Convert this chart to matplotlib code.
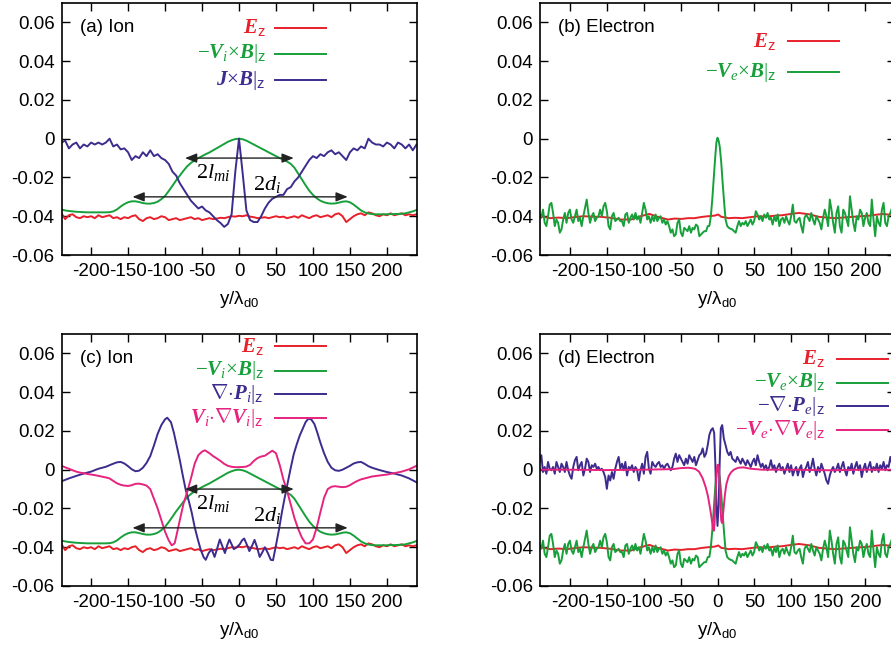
import numpy as np
import matplotlib
matplotlib.use('Agg')
import matplotlib.pyplot as plt

plt.rcParams['font.family'] = ['Liberation Sans', 'DejaVu Sans']
plt.rcParams['mathtext.fontset'] = 'custom'
plt.rcParams['mathtext.rm'] = 'Liberation Serif'
plt.rcParams['mathtext.it'] = 'Liberation Serif:italic'
plt.rcParams['mathtext.bf'] = 'Liberation Serif:bold:italic'
plt.rcParams['mathtext.sf'] = 'Liberation Sans'

C_RED = '#e8202a'
C_GRN = '#17a03a'
C_BLU = '#3d2b8e'
C_MAG = '#e6237e'

# ---------------- axis ticks ----------------
xticks = [-200, -150, -100, -50, 0, 50, 100, 150, 200]
xtick_labels = ['-200', '-150', '-100', '-50', '0', '50', '100', '150', '200']
yticks = [-0.06, -0.04, -0.02, 0.0, 0.02, 0.04, 0.06]
ytick_labels = ['-0.06', '-0.04', '-0.02', '0', '0.02', '0.04', '0.06']

# ---------------- ion panels (a), (c) ----------------
y_ion = np.arange(-240, 241, 5)

ion_Ez = [-0.0385, -0.0415, -0.0395, -0.0390, -0.0405, -0.0410, -0.0400, -0.0405, -0.0400, -0.0410,
          -0.0395, -0.0405, -0.0400, -0.0395, -0.0410, -0.0405, -0.0415, -0.0405, -0.0410, -0.0400,
          -0.0395, -0.0415, -0.0425, -0.0410, -0.0405, -0.0415, -0.0410, -0.0400, -0.0405, -0.0420,
          -0.0415, -0.0410, -0.0420, -0.0415, -0.0410, -0.0405, -0.0415, -0.0410, -0.0420, -0.0415,
          -0.0410, -0.0415, -0.0412, -0.0408, -0.0410, -0.0405, -0.0400, -0.0402, -0.0398, -0.0400,
          -0.0395, -0.0402, -0.0405, -0.0410, -0.0408, -0.0405, -0.0410, -0.0405, -0.0400, -0.0405,
          -0.0402, -0.0410, -0.0405, -0.0400, -0.0408, -0.0395, -0.0403, -0.0410, -0.0400, -0.0395,
          -0.0405, -0.0400, -0.0395, -0.0405, -0.0390, -0.0385, -0.0400, -0.0430, -0.0415, -0.0400,
          -0.0390, -0.0385, -0.0395, -0.0380, -0.0385, -0.0395, -0.0400, -0.0390, -0.0395, -0.0385,
          -0.0395, -0.0390, -0.0385, -0.0395, -0.0390, -0.0395, -0.0390]

ion_VxB = [-0.0366, -0.0370, -0.0373, -0.0375, -0.0377, -0.0378, -0.0379, -0.0380, -0.0380, -0.0380,
           -0.0380, -0.0380, -0.0380, -0.0379, -0.0375, -0.0365, -0.0350, -0.0337, -0.0328, -0.0323,
           -0.0323, -0.0327, -0.0332, -0.0335, -0.0335, -0.0332, -0.0325, -0.0312, -0.0295, -0.0270,
           -0.0243, -0.0215, -0.0190, -0.0165, -0.0142, -0.0125, -0.0112, -0.0100, -0.0090, -0.0080,
           -0.0071, -0.0060, -0.0049, -0.0038, -0.0027, -0.0016, -0.0008, -0.0002, 0.0000, -0.0003,
           -0.0010, -0.0020, -0.0030, -0.0040, -0.0050, -0.0060, -0.0070, -0.0080, -0.0090, -0.0100,
           -0.0108, -0.0118, -0.0130, -0.0150, -0.0180, -0.0210, -0.0240, -0.0268, -0.0290, -0.0307,
           -0.0320, -0.0328, -0.0333, -0.0335, -0.0334, -0.0330, -0.0325, -0.0323, -0.0328, -0.0340,
           -0.0355, -0.0370, -0.0380, -0.0386, -0.0389, -0.0390, -0.0390, -0.0390, -0.0390, -0.0389,
           -0.0389, -0.0388, -0.0387, -0.0385, -0.0380, -0.0375, -0.0368]

ion_JxB = [-0.0020, -0.0010, -0.0050, -0.0030, -0.0020, -0.0050, -0.0030, -0.0040, -0.0020, -0.0030,
           -0.0020, -0.0030, -0.0020, 0.0000, -0.0040, -0.0030, -0.0055, -0.0050, -0.0070, -0.0110,
           -0.0090, -0.0100, -0.0070, -0.0090, -0.0060, -0.0090, -0.0080, -0.0100, -0.0110, -0.0130,
           -0.0170, -0.0190, -0.0230, -0.0260, -0.0290, -0.0320, -0.0340, -0.0360, -0.0350, -0.0370,
           -0.0380, -0.0400, -0.0420, -0.0435, -0.0455, -0.0440, -0.0390, -0.0170, 0.0000, -0.0180,
           -0.0370, -0.0420, -0.0430, -0.0430, -0.0400, -0.0360, -0.0330, -0.0310, -0.0300, -0.0290,
           -0.0290, -0.0260, -0.0250, -0.0220, -0.0200, -0.0170, -0.0140, -0.0110, -0.0090, -0.0100,
           -0.0080, -0.0090, -0.0070, -0.0060, -0.0080, -0.0070, -0.0090, -0.0110, -0.0070, -0.0050,
           -0.0060, -0.0040, -0.0050, 0.0000, -0.0020, -0.0030, -0.0030, -0.0040, -0.0020, -0.0030,
           -0.0050, -0.0020, -0.0030, -0.0050, -0.0030, -0.0060, -0.0030]

# ion pressure term (c)
y_divPi = [-240, -230, -220, -210, -200, -190, -180, -172, -165, -160, -155, -150, -145, -140, -135,
           -130, -125, -120, -115, -110, -105, -100, -97, -92, -88, -84, -80, -76, -72, -68, -64, -60,
           -56, -52, -48, -45, -41, -37, -33, -29, -26, -22, -19, -16, -13, -10, -7, -3, 1, 4, 7, 11,
           14, 18, 21, 24, 28, 31, 35, 39, 43, 46, 50, 54, 58, 62, 66, 70, 74, 78, 82, 86, 90, 94, 98,
           102, 106, 110, 115, 120, 125, 130, 135, 140, 145, 150, 155, 160, 165, 170, 175, 180, 190,
           200, 210, 220, 230, 240]
divPi = [-0.0060, -0.0045, -0.0032, -0.0020, -0.0010, 0.0005, 0.0015, 0.0028, 0.0038, 0.0040, 0.0032,
         0.0018, 0.0002, -0.0008, -0.0005, 0.0010, 0.0035, 0.0070, 0.0125, 0.0185, 0.0230, 0.0260,
         0.0268, 0.0245, 0.0190, 0.0120, 0.0049, -0.0030, -0.0105, -0.0160, -0.0220, -0.0295, -0.0355,
         -0.0410, -0.0450, -0.0465, -0.0430, -0.0410, -0.0450, -0.0400, -0.0360, -0.0400, -0.0430,
         -0.0390, -0.0360, -0.0385, -0.0410, -0.0400, -0.0385, -0.0365, -0.0355, -0.0390, -0.0420,
         -0.0390, -0.0362, -0.0395, -0.0450, -0.0430, -0.0400, -0.0430, -0.0465, -0.0467, -0.0390,
         -0.0310, -0.0220, -0.0140, -0.0065, 0.0010, 0.0080, 0.0130, 0.0175, 0.0210, 0.0245, 0.0264,
         0.0258, 0.0235, 0.0190, 0.0140, 0.0085, 0.0040, 0.0010, -0.0003, -0.0006, 0.0000, 0.0010,
         0.0020, 0.0032, 0.0038, 0.0040, 0.0030, 0.0018, 0.0010, -0.0002, -0.0012, -0.0020, -0.0030,
         -0.0045, -0.0065]

# ion inertia term (c)
y_ViDVi = [-240, -235, -230, -225, -220, -215, -210, -205, -200, -195, -190, -185, -180, -175, -170,
           -165, -160, -155, -150, -145, -140, -135, -130, -125, -120, -115, -110, -105, -100, -95,
           -91, -87, -84, -80, -75, -70, -65, -60, -55, -50, -46, -40, -35, -30, -25, -20, -15, -10,
           -5, 0, 5, 10, 15, 20, 25, 30, 35, 40, 45, 50, 55, 60, 65, 70, 75, 80, 85, 90, 95, 100, 105,
           110, 115, 120, 125, 130, 135, 140, 145, 150, 155, 160, 165, 170, 175, 180, 190, 200, 210,
           220, 230, 240]
ViDVi = [0.0020, 0.0012, 0.0005, -0.0003, -0.0010, -0.0015, -0.0018, -0.0022, -0.0025, -0.0028,
         -0.0032, -0.0036, -0.0040, -0.0045, -0.0058, -0.0070, -0.0078, -0.0082, -0.0084, -0.0080,
         -0.0073, -0.0072, -0.0076, -0.0082, -0.0100, -0.0150, -0.0200, -0.0260, -0.0320, -0.0365,
         -0.0390, -0.0380, -0.0330, -0.0260, -0.0175, -0.0115, -0.0045, 0.0030, 0.0075, 0.0093,
         0.0100, 0.0085, 0.0070, 0.0058, 0.0045, 0.0030, 0.0020, 0.0015, 0.0013, 0.0013, 0.0014,
         0.0016, 0.0025, 0.0045, 0.0060, 0.0068, 0.0072, 0.0085, 0.0098, 0.0085, 0.0025, -0.0050,
         -0.0110, -0.0180, -0.0250, -0.0305, -0.0350, -0.0380, -0.0380, -0.0360, -0.0300, -0.0220,
         -0.0145, -0.0100, -0.0088, -0.0085, -0.0088, -0.0090, -0.0088, -0.0080, -0.0068, -0.0058,
         -0.0050, -0.0045, -0.0040, -0.0035, -0.0030, -0.0025, -0.0018, -0.0010, 0.0002, 0.0020]

# annotation arrows (ion panels)
lmi_span = [-73, 74]
lmi_level = -0.010
lmi_text_pos = [-35, -0.0172]
di_span = [-144, 147]
di_level = -0.0300
di_text_pos = [38, -0.0236]

# ---------------- electron panels (b), (d) ----------------
y_eEz = [-240, -233, -226, -215, -204, -192, -181, -170, -158, -145, -131, -117, -104, -92, -81, -67,
         -58, -49, -40, -31, -22, -13, -4, 1, 5, 10, 15, 24, 33, 44, 55, 66, 78, 87, 96, 110, 124, 137,
         148, 160, 172, 183, 194, 205, 215, 224, 232, 240]
e_Ez = [-0.0400, -0.0405, -0.0410, -0.0407, -0.0410, -0.0404, -0.0400, -0.0402, -0.0403, -0.0408,
        -0.0417, -0.0417, -0.0400, -0.0388, -0.0403, -0.0417, -0.0412, -0.0414, -0.0410, -0.0410,
        -0.0404, -0.0400, -0.0397, -0.0391, -0.0403, -0.0406, -0.0410, -0.0408, -0.0410, -0.0405,
        -0.0400, -0.0402, -0.0397, -0.0395, -0.0390, -0.0383, -0.0390, -0.0403, -0.0407, -0.0410,
        -0.0406, -0.0403, -0.0400, -0.0397, -0.0392, -0.0388, -0.0392, -0.0390]

# -Ve x B (noisy), left part, central peak, right part
eVxB_left = [-0.0391, -0.0408, -0.0366, -0.0434, -0.0451, -0.0400, -0.0340, -0.0331, -0.0383, -0.0451,
             -0.0417, -0.0434, -0.0485, -0.0468, -0.0417, -0.0383, -0.0434, -0.0383, -0.0366, -0.0417,
             -0.0434, -0.0400, -0.0366, -0.0425, -0.0408, -0.0451, -0.0400, -0.0357, -0.0314, -0.0383,
             -0.0434, -0.0400, -0.0383, -0.0425, -0.0408, -0.0400, -0.0366, -0.0400, -0.0349, -0.0331,
             -0.0374, -0.0451, -0.0468, -0.0400, -0.0383, -0.0425, -0.0417, -0.0408, -0.0425, -0.0425,
             -0.0451, -0.0391, -0.0383, -0.0434, -0.0408, -0.0391, -0.0417, -0.0383, -0.0417, -0.0400,
             -0.0434, -0.0383, -0.0331, -0.0366, -0.0417, -0.0400, -0.0434, -0.0400, -0.0425, -0.0391,
             -0.0425, -0.0408, -0.0400, -0.0434, -0.0417, -0.0443, -0.0425, -0.0451, -0.0485, -0.0468,
             -0.0503, -0.0494, -0.0434, -0.0417, -0.0485, -0.0503, -0.0460, -0.0468, -0.0477, -0.0451,
             -0.0485, -0.0460, -0.0468, -0.0443, -0.0451, -0.0503, -0.0494, -0.0485, -0.0477, -0.0477,
             -0.0451]
eVxB_left_range = [-240.5, -13.2]
y_eVxB_mid = [-11, -9, -7, -5, -3, -1.5, 0, 1.5, 3, 5, 7, 9]
eVxB_mid = [-0.0450, -0.0400, -0.0310, -0.0200, -0.0090, -0.0020, 0.0005, -0.0010, -0.0040,
            -0.0120, -0.0230, -0.0330]
eVxB_right = [-0.0417, -0.0451, -0.0460, -0.0465, -0.0468, -0.0477, -0.0485, -0.0451, -0.0425, -0.0451,
              -0.0434, -0.0443, -0.0425, -0.0451, -0.0434, -0.0417, -0.0443, -0.0425, -0.0374, -0.0391,
              -0.0417, -0.0400, -0.0425, -0.0391, -0.0408, -0.0383, -0.0417, -0.0408, -0.0443, -0.0400,
              -0.0425, -0.0391, -0.0451, -0.0417, -0.0408, -0.0434, -0.0400, -0.0425, -0.0443, -0.0400,
              -0.0340, -0.0425, -0.0434, -0.0417, -0.0408, -0.0451, -0.0485, -0.0408, -0.0391, -0.0408,
              -0.0425, -0.0383, -0.0417, -0.0443, -0.0400, -0.0417, -0.0434, -0.0468, -0.0408, -0.0366,
              -0.0400, -0.0451, -0.0314, -0.0366, -0.0434, -0.0485, -0.0383, -0.0349, -0.0451, -0.0485,
              -0.0366, -0.0383, -0.0417, -0.0451, -0.0297, -0.0366, -0.0434, -0.0477, -0.0400, -0.0417,
              -0.0366, -0.0383, -0.0451, -0.0408, -0.0383, -0.0434, -0.0451, -0.0314, -0.0417, -0.0503,
              -0.0400, -0.0434, -0.0451, -0.0366, -0.0331, -0.0434, -0.0451, -0.0400, -0.0383, -0.0357,
              -0.0400]
eVxB_right_range = [10.9, 238.2]

# -div Pe (noisy), left part, central structure, right part
eDivP_left = [0.0040, 0.0075, -0.0012, 0.0014, -0.0021, 0.0040, 0.0005, -0.0003, 0.0014, -0.0021,
              0.0040, 0.0014, -0.0012, 0.0031, 0.0014, -0.0012, 0.0040, -0.0003, -0.0030, -0.0047,
              0.0014, 0.0049, 0.0066, -0.0003, 0.0023, 0.0040, -0.0030, 0.0005, 0.0057, 0.0040,
              -0.0012, 0.0023, 0.0014, 0.0031, 0.0005, 0.0014, -0.0003, 0.0005, -0.0012, -0.0038,
              -0.0099, -0.0030, -0.0056, -0.0012, -0.0047, 0.0005, 0.0040, 0.0066, 0.0005, 0.0031,
              -0.0003, 0.0040, -0.0030, 0.0014, 0.0005, 0.0023, -0.0012, 0.0014, -0.0003, -0.0056,
              -0.0003, 0.0031, -0.0021, 0.0066, 0.0092, 0.0005, -0.0021, 0.0040, 0.0023, 0.0014,
              0.0031, 0.0040, 0.0014, 0.0023, 0.0005, 0.0023, 0.0031, 0.0014, -0.0003, 0.0014,
              0.0057, 0.0083, 0.0040, 0.0075, 0.0057, 0.0040, 0.0023, 0.0057, 0.0031, 0.0075,
              0.0057, 0.0040, 0.0066, 0.0023, 0.0049, 0.0075, 0.0083, 0.0110, 0.0066, 0.0083,
              0.0127]
y_eDivP_mid = [-11, -8.6, -6.4, -4.5, -3, -1.5, 0, 1.5, 3, 4.5, 6.4, 8.6]
eDivP_mid = [0.0180, 0.0205, 0.0214, 0.0190, 0.0040, -0.0180, -0.0290, -0.0180, 0.0040, 0.0214,
             0.0230, 0.0160]
eDivP_right = [0.0127, 0.0092, 0.0075, 0.0092, 0.0057, 0.0049, 0.0040, 0.0066, 0.0049, 0.0031,
               0.0057, 0.0040, 0.0023, 0.0049, 0.0031, 0.0014, 0.0040, 0.0057, 0.0023, 0.0075,
               0.0040, 0.0014, 0.0031, 0.0005, 0.0023, -0.0003, 0.0014, 0.0049, 0.0005, 0.0023,
               -0.0012, 0.0014, 0.0031, -0.0003, 0.0014, -0.0021, 0.0005, 0.0031, -0.0012, 0.0023,
               -0.0030, -0.0003, 0.0014, -0.0030, 0.0005, 0.0023, -0.0038, -0.0003, 0.0014, 0.0040,
               -0.0012, 0.0014, 0.0057, 0.0005, -0.0030, 0.0014, -0.0012, 0.0031, 0.0005, -0.0021,
               -0.0056, -0.0073, -0.0030, -0.0003, 0.0014, -0.0012, 0.0005, 0.0031, -0.0012, 0.0014,
               0.0040, -0.0003, -0.0030, 0.0014, -0.0003, 0.0031, -0.0021, 0.0014, 0.0040, -0.0003,
               0.0023, -0.0038, 0.0005, 0.0031, -0.0012, 0.0014, 0.0040, -0.0012, 0.0014, -0.0003,
               0.0031, -0.0012, 0.0023, 0.0005, 0.0040, -0.0003, 0.0023, 0.0014, 0.0066, 0.0031,
               0.0005]

# -Ve . grad Ve
y_eVDV = [-240, -200, -150, -100, -60, -50, -40, -35, -30, -25, -20, -16, -13, -10, -8, -6, -5, -4,
          -3, -2, -1, 0, 1, 2, 3, 4, 5, 6, 7, 8, 10, 12, 15, 18, 22, 28, 35, 45, 60, 100, 150, 200, 240]
eVDV = [0.0000, 0.0000, -0.0002, 0.0000, 0.0003, 0.0008, 0.0010, 0.0008, 0.0004, -0.0010, -0.0045,
        -0.0090, -0.0135, -0.0200, -0.0250, -0.0305, -0.0315, -0.0280, -0.0180, -0.0080, 0.0000,
        0.0025, 0.0025, 0.0005, -0.0080, -0.0190, -0.0260, -0.0275, -0.0250, -0.0210, -0.0130,
        -0.0075, -0.0035, -0.0015, 0.0000, 0.0010, 0.0012, 0.0005, 0.0000, 0.0000, -0.0003, 0.0000,
        0.0000]

y_eVxB = np.concatenate([np.linspace(eVxB_left_range[0], eVxB_left_range[1], len(eVxB_left)),
                         y_eVxB_mid,
                         np.linspace(eVxB_right_range[0], eVxB_right_range[1], len(eVxB_right))])
v_eVxB = np.concatenate([eVxB_left, eVxB_mid, eVxB_right])
y_eDivP = np.concatenate([np.linspace(eVxB_left_range[0], eVxB_left_range[1], len(eDivP_left)),
                          y_eDivP_mid,
                          np.linspace(eVxB_right_range[0], eVxB_right_range[1], len(eDivP_right))])
v_eDivP = np.concatenate([eDivP_left, eDivP_mid, eDivP_right])

# ---------------- labels ----------------
lab_Ez = r'$\mathbf{E}_{\mathsf{z}}$'
lab_ViB = r'${-}\mathbf{V}_{i}{\times}\mathbf{B}|_{\mathsf{z}}$'
lab_JB = r'$\mathbf{J}{\times}\mathbf{B}|_{\mathsf{z}}$'
lab_VeB = r'${-}\mathbf{V}_{e}{\times}\mathbf{B}|_{\mathsf{z}}$'
lab_Pi = r'${\nabla}{\cdot}\mathbf{P}_{i}|_{\mathsf{z}}$'
lab_ViV = r'$\mathbf{V}_{i}{\cdot}{\nabla}\mathbf{V}_{i}|_{\mathsf{z}}$'
lab_Pe = r'${-}{\nabla}{\cdot}\mathbf{P}_{e}|_{\mathsf{z}}$'
lab_VeV = r'${-}\mathbf{V}_{e}{\cdot}{\nabla}\mathbf{V}_{e}|_{\mathsf{z}}$'

LW = 1.4
FS_TICK = 13.5
FS_LEG = 15
W, H = 891, 647
fig = plt.figure(figsize=(W / 100, H / 100), dpi=100)

def add_ax(left_px, top_px):
    return fig.add_axes([left_px / W, 1 - (top_px + 252) / H, 355 / W, 252 / H])

ax_a = add_ax(61.5, 3)
ax_b = add_ax(540, 3)
ax_c = add_ax(61.5, 334)
ax_d = add_ax(540, 334)

def style(ax):
    ax.set_xlim(-240, 240)
    ax.set_ylim(-0.06, 0.07)
    ax.set_xticks(xticks)
    ax.set_xticklabels(xtick_labels)
    ax.set_yticks(yticks)
    ax.set_yticklabels(ytick_labels)
    ax.tick_params(direction='in', top=True, right=True, length=6, width=1.0,
                   labelsize=FS_TICK, pad=5, colors='black')
    ax.tick_params(axis='x', pad=6)
    for s in ax.spines.values():
        s.set_linewidth(1.2)
    ax.set_xlabel(r'$\mathsf{y/\lambda_{d0}}$', fontsize=FS_TICK)
    ax.xaxis.set_label_coords(0.5, -0.135)

def legend(ax, entries, xt, xl0, xl1, ys):
    for (label, color), yy in zip(entries, ys):
        ax.text(xt, yy, label, transform=ax.transAxes, ha='right', va='center',
                color=color, fontsize=FS_LEG)
        ax.plot([xl0, xl1], [yy, yy], transform=ax.transAxes, color=color, lw=LW, clip_on=False)

def arrows(ax):
    ap = dict(arrowstyle='<|-|>,head_length=0.7,head_width=0.28', color='#222222', lw=1.0,
              shrinkA=0, shrinkB=0)
    ax.annotate('', xy=(lmi_span[1], lmi_level), xytext=(lmi_span[0], lmi_level), arrowprops=ap)
    ax.annotate('', xy=(di_span[1], di_level), xytext=(di_span[0], di_level), arrowprops=ap)
    ax.text(lmi_text_pos[0], lmi_text_pos[1], r'$2l_{mi}$', fontsize=16, ha='center', va='center')
    ax.text(di_text_pos[0], di_text_pos[1], r'$2d_{i}$', fontsize=16, ha='center', va='center')

# (a)
ax = ax_a
ax.plot(y_ion, ion_Ez, color=C_RED, lw=LW)
ax.plot(y_ion, ion_VxB, color=C_GRN, lw=LW)
ax.plot(y_ion, ion_JxB, color=C_BLU, lw=LW)
arrows(ax)
style(ax)
ax.text(0.052, 0.901, '(a) Ion', transform=ax.transAxes, fontsize=FS_TICK, va='center')
legend(ax, [(lab_Ez, C_RED), (lab_ViB, C_GRN), (lab_JB, C_BLU)], 0.575, 0.601, 0.745,
       [0.901, 0.799, 0.694])

# (b)
ax = ax_b
ax.plot(y_eEz, e_Ez, color=C_RED, lw=LW)
ax.plot(y_eVxB, v_eVxB, color=C_GRN, lw=LW)
style(ax)
ax.text(0.05, 0.901, '(b) Electron', transform=ax.transAxes, fontsize=FS_TICK, va='center')
legend(ax, [(lab_Ez, C_RED), (lab_VeB, C_GRN)], 0.665, 0.699, 0.842, [0.849, 0.726])

# (c)
ax = ax_c
ax.plot(y_ion, ion_Ez, color=C_RED, lw=LW)
ax.plot(y_ion, ion_VxB, color=C_GRN, lw=LW)
ax.plot(y_divPi, divPi, color=C_BLU, lw=LW)
ax.plot(y_ViDVi, ViDVi, color=C_MAG, lw=LW)
arrows(ax)
style(ax)
ax.text(0.052, 0.901, '(c) Ion', transform=ax.transAxes, fontsize=FS_TICK, va='center')
legend(ax, [(lab_Ez, C_RED), (lab_ViB, C_GRN), (lab_Pi, C_BLU), (lab_ViV, C_MAG)],
       0.570, 0.601, 0.745, [0.952, 0.855, 0.762, 0.667])

# (d)
ax = ax_d
ax.plot(y_eEz, e_Ez, color=C_RED, lw=LW)
ax.plot(y_eVxB, v_eVxB, color=C_GRN, lw=LW)
ax.plot(y_eDivP, v_eDivP, color=C_BLU, lw=LW)
ax.plot(y_eVDV, eVDV, color=C_MAG, lw=LW)
style(ax)
ax.text(0.05, 0.901, '(d) Electron', transform=ax.transAxes, fontsize=FS_TICK, va='center')
legend(ax, [(lab_Ez, C_RED), (lab_VeB, C_GRN), (lab_Pe, C_BLU), (lab_VeV, C_MAG)],
       0.803, 0.837, 0.98, [0.901, 0.806, 0.714, 0.619])

fig.savefig('out.png', dpi=100)
